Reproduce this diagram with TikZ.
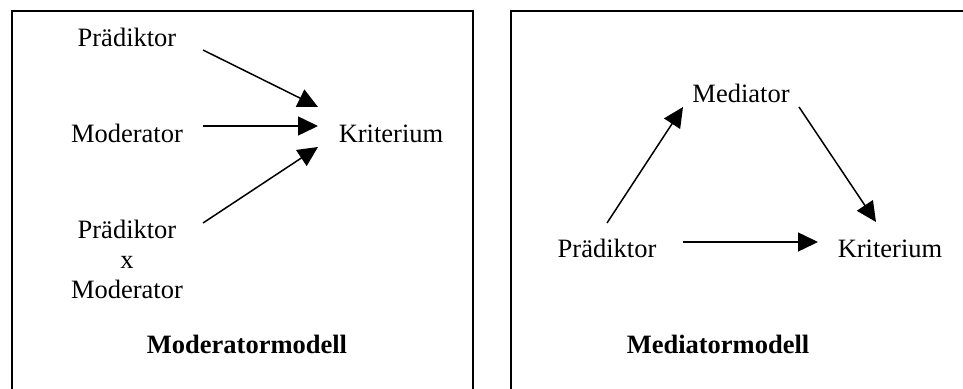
\documentclass[tikz,border=0pt]{standalone}
\usepackage{fontspec}
\setmainfont{Liberation Serif}
\usetikzlibrary{arrows.meta}
\tikzset{
  lbl/.style={inner sep=0pt, anchor=base, font=\fontsize{26.5}{30}\selectfont, align=center},
  ttl/.style={lbl, font=\fontsize{26.5}{30}\selectfont\bfseries},
  frame/.style={line width=2pt},
  arr/.style={line width=1.5pt, -{Triangle[length=20pt,width=19pt]}}
}
\begin{document}
\begin{tikzpicture}[x=1pt,y=-1pt]
\useasboundingbox (0,0) rectangle (963,388);
% frames
\draw[frame] (12,390) -- (12,11) -- (473,11) -- (473,390);
\draw[frame] (511,390) -- (511,11) -- (965,11);
% left panel
\node[lbl] (p1) at (127,46) {Prädiktor};
\node[lbl] (m1) at (127,142) {Moderator};
\node[lbl] (k1) at (391,142) {Kriterium};
\node[lbl] (px) at (127,298) {Prädiktor\\x\\Moderator};
\node[ttl] (t1) at (247,353) {Moderatormodell};
\coordinate (p1s) at (203,50);
\coordinate (m1s) at (203,126);
\coordinate (pxs) at (203,223);
\coordinate (k1a) at (318,107);
\coordinate (k1b) at (318,126);
\coordinate (k1c) at (318,147);
\draw[arr] (p1s) -- (k1a);
\draw[arr] (m1s) -- (k1b);
\draw[arr] (pxs) -- (k1c);
% right panel
\node[lbl] (me) at (741,102) {Mediator};
\node[lbl] (p2) at (607,257) {Prädiktor};
\node[lbl] (k2) at (890,257) {Kriterium};
\node[ttl] (t2) at (718,353) {Mediatormodell};
\coordinate (p2s) at (607,223);
\coordinate (mea) at (683,107);
\coordinate (mes) at (799,107);
\coordinate (k2a) at (876,222);
\coordinate (p2h) at (683,242);
\coordinate (k2b) at (818,242);
\draw[arr] (p2s) -- (mea);
\draw[arr] (mes) -- (k2a);
\draw[arr] (p2h) -- (k2b);
\end{tikzpicture}
\end{document}
